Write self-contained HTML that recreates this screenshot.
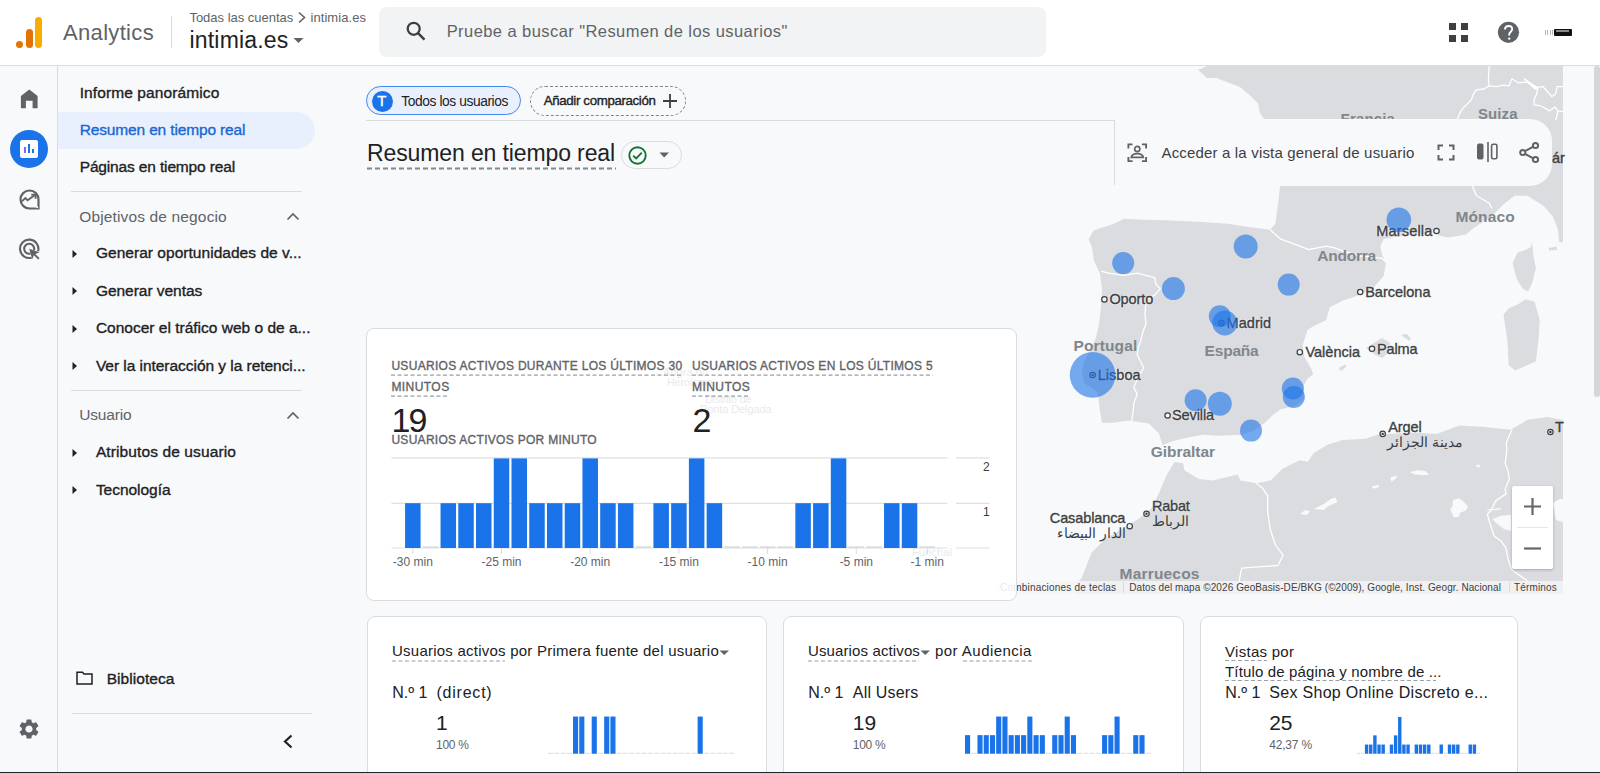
<!DOCTYPE html>
<html><head><meta charset="utf-8"><style>
html,body{margin:0;padding:0;width:1600px;height:773px;overflow:hidden;background:#f8f9fa;}
.abs{position:absolute;}
.tx{position:absolute;white-space:nowrap;line-height:1;font-family:'Liberation Sans',sans-serif;}
</style></head><body>
<svg class="abs" style="left:0;top:0" width="1600" height="773" viewBox="0 0 1600 773">
<defs><clipPath id="mc"><rect x="330" y="66" width="1233" height="528"/></clipPath></defs>
<g clip-path="url(#mc)">
<rect x="330" y="66" width="1233" height="528" fill="#dadce0"/>
<polygon points="330.0,66.0 1207.0,66.0 1198.0,70.0 1207.0,78.0 1216.0,78.0 1240.0,87.0 1250.6,96.0 1258.0,103.5 1259.7,112.5 1264.0,119.0 1272.0,150.0 1280.0,186.0 1278.6,200.0 1275.3,223.7 1270.2,229.8 1248.4,227.1 1228.2,223.7 1201.3,222.0 1171.0,220.4 1144.0,219.7 1124.0,218.7 1113.8,223.7 1093.6,230.5 1088.6,238.9 1092.0,247.3 1094.0,260.7 1099.8,273.2 1102.0,288.6 1100.9,308.4 1098.7,326.0 1095.4,339.2 1088.8,352.4 1083.0,365.0 1082.0,372.0 1084.4,383.2 1097.6,392.0 1099.8,409.5 1102.0,422.7 1113.0,422.7 1128.4,420.5 1143.8,422.7 1148.6,423.3 1159.0,433.6 1162.8,446.5 1169.3,459.5 1174.5,462.0 1166.7,475.0 1159.0,493.0 1151.2,508.6 1138.3,519.0 1125.3,526.7 1104.7,539.6 1091.7,552.6 1086.5,565.5 1081.4,578.4 1078.8,581.0 1075.0,600.0 330.0,600.0" fill="#f8f9fa"/>
<polygon points="1160.0,446.4 1163.9,444.4 1171.6,441.5 1183.3,438.6 1202.7,434.7 1218.2,435.7 1241.5,434.7 1253.1,430.9 1264.7,423.1 1272.5,415.3 1280.2,409.5 1295.8,405.6 1304.5,397.9 1303.5,386.2 1307.4,378.5 1313.2,374.6 1311.3,368.8 1304.5,357.2 1302.6,345.5 1307.4,330.0 1313.8,326.0 1326.2,320.0 1329.7,307.3 1343.7,300.3 1359.4,295.0 1373.4,288.0 1383.8,275.8 1385.6,265.3 1385.6,261.9 1382.1,254.9 1380.3,246.1 1383.8,239.1 1397.8,236.5 1418.8,234.8 1434.5,232.2 1440.0,235.7 1447.8,237.5 1466.0,234.4 1473.7,228.0 1491.8,216.3 1504.8,203.3 1515.0,195.5 1528.0,196.0 1543.6,205.9 1552.7,216.3 1557.9,229.2 1559.2,242.2 1570.0,242.2 1570.0,419.8 1561.7,419.8 1547.5,417.0 1527.6,419.8 1510.5,429.8 1485.0,427.0 1459.3,425.5 1436.6,434.0 1413.8,432.6 1378.4,434.4 1365.5,438.7 1342.5,440.1 1328.1,444.4 1313.7,453.1 1308.0,461.7 1299.4,460.2 1282.1,468.9 1270.6,480.4 1256.2,483.2 1240.4,480.4 1237.6,474.6 1213.1,480.4 1198.7,479.0 1184.4,470.3 1183.0,463.0 1170.0,461.7 1165.0,458.0" fill="#f8f9fa"/>
<polygon points="1532.0,240.9 1533.3,255.1 1535.9,268.0 1532.0,283.6 1528.0,291.4 1522.9,288.8 1517.7,281.0 1515.1,273.3 1512.5,262.9 1517.7,252.5 1525.5,250.0 1531.0,247.0" fill="#dadce0"/>
<polygon points="1525.5,299.2 1534.6,301.8 1539.7,319.9 1538.4,340.6 1535.9,361.3 1515.1,370.4 1508.7,365.2 1507.4,340.6 1503.5,314.7 1508.7,308.2 1517.7,304.4" fill="#dadce0"/>
<polygon points="1365.8,348.0 1382.1,337.9 1389.9,342.5 1388.3,352.6 1382.1,358.0 1374.3,354.2" fill="#dadce0"/>
<polygon points="1338.6,368.1 1345.6,364.3 1346.4,366.6 1341.0,371.2" fill="#dadce0"/>
<polygon points="1400.7,334.8 1407.0,334.0 1410.8,338.6 1409.3,341.0 1403.8,337.0" fill="#dadce0"/>
<polygon points="1548.8,248.0 1556.6,246.5 1557.0,250.0 1549.0,250.5" fill="#dadce0"/>
<polyline points="1100.9,271.0 1108.6,273.2 1124.0,275.4 1137.2,273.2 1146.0,275.4 1154.8,277.6 1155.9,284.2 1160.3,288.6 1154.8,295.2 1146.0,299.6 1144.9,315.0 1146.0,323.8 1142.7,332.6 1140.5,341.4 1138.3,346.9 1137.2,354.6 1140.5,361.2 1143.8,367.8 1137.2,378.8 1133.9,387.6 1137.2,394.2 1133.9,403.0 1132.8,414.0 1131.7,421.0" fill="none" stroke="#fff" stroke-width="1.3" stroke-linejoin="round"/>
<polyline points="1270.2,229.8 1280.2,238.8 1300.0,246.1 1308.7,249.6 1326.2,246.1 1334.9,247.9 1343.7,251.4 1360.9,256.0 1382.1,258.4 1385.6,261.9" fill="none" stroke="#fff" stroke-width="1.3" stroke-linejoin="round"/>
<polyline points="1256.2,483.2 1262.4,487.9 1267.6,495.7 1267.6,511.2 1270.2,529.3 1275.3,544.8 1283.1,555.2 1277.9,565.5 1241.7,568.1 1239.1,581.0" fill="none" stroke="#fff" stroke-width="1.3" stroke-linejoin="round"/>
<polyline points="1512.0,429.8 1506.3,442.6 1506.8,450.0 1505.2,463.5 1507.7,470.2 1509.4,478.7 1505.2,488.8 1506.0,493.9 1495.9,500.6 1490.8,510.7 1487.4,514.1 1489.1,520.9 1494.2,536.1 1501.0,541.1 1506.0,547.9 1507.7,558.0 1512.0,570.0 1527.6,581.0" fill="none" stroke="#fff" stroke-width="1.3" stroke-linejoin="round"/>
<polyline points="1489.2,66.0 1488.4,79.6 1489.2,85.9 1483.8,89.0 1476.0,89.8 1473.6,93.7 1471.2,100.0 1463.4,107.8 1461.0,110.9 1457.2,119.0" fill="none" stroke="#fff" stroke-width="1.3" stroke-linejoin="round"/>
<polyline points="1489.2,85.9 1496.2,86.7 1504.0,85.1 1508.8,85.9 1511.9,78.8 1518.1,82.8 1526.0,82.0 1537.7,87.4 1543.0,86.7 1549.4,93.7 1551.7,96.8 1555.6,93.7 1557.2,86.7 1563.0,86.7" fill="none" stroke="#fff" stroke-width="1.3" stroke-linejoin="round"/>
<polyline points="1537.7,87.4 1536.9,93.7 1534.5,98.4 1533.8,104.6 1541.6,106.2 1549.4,110.9 1554.8,107.0 1558.0,110.9 1563.0,111.6" fill="none" stroke="#fff" stroke-width="1.3" stroke-linejoin="round"/>
<polyline points="1558.0,110.9 1557.2,114.8 1555.6,120.2" fill="none" stroke="#fff" stroke-width="1.3" stroke-linejoin="round"/>
<polyline points="1472.4,186.0 1476.3,195.5 1489.2,203.3 1491.8,208.5" fill="none" stroke="#fff" stroke-width="1.3" stroke-linejoin="round"/>
<path d="M1524.4 78.8 L1537.7 88.5 L1535 89 Z" fill="#fff" stroke="#fff" stroke-width="1.2"/>
<polygon points="1409.8,471.9 1418.2,470.2 1425.0,471.1 1429.2,474.5 1423.3,475.3 1414.9,474.5" fill="#f8f9fa"/>
<polygon points="1390.4,477.5 1396.5,475.8 1397.2,477.2 1391.5,482.1" fill="#f8f9fa"/>
<polygon points="1371.8,486.4 1378.5,484.8 1379.4,487.0 1373.0,488.8" fill="#f8f9fa"/>
<polygon points="1313.6,509.1 1323.7,504.0 1330.5,498.9 1335.6,497.2 1337.3,502.3 1328.8,505.7 1323.7,509.9" fill="#f8f9fa"/>
<polygon points="1300.1,514.1 1305.2,509.9 1310.2,511.6 1306.9,515.0" fill="#f8f9fa"/>
<polygon points="1452.8,500.6 1458.7,498.1 1465.5,503.2 1468.0,507.4 1465.5,510.8 1460.4,512.4 1458.7,516.7 1453.7,517.5 1450.3,509.1 1452.8,505.7" fill="#f8f9fa"/>
<polygon points="1492.5,519.2 1500.9,515.8 1511.0,515.0 1511.0,531.0 1504.3,529.3 1497.6,524.2" fill="#f8f9fa"/>
<polygon points="1553.0,503.0 1560.0,499.0 1563.0,499.0 1563.0,522.0 1556.0,520.0" fill="#f8f9fa"/>
<polygon points="1475.6,465.5 1479.0,464.3 1480.7,467.7 1477.0,467.0" fill="#f8f9fa"/>
<path d="M1487.4 510 L1500.9 508.8" stroke="#fff" stroke-width="1.2"/>
<circle cx="1104.4" cy="299.4" r="2.7" fill="#f1f3f4" stroke="#3c4043" stroke-width="1.2"/>
<circle cx="1221.5" cy="323" r="2.7" fill="#f1f3f4" stroke="#3c4043" stroke-width="1.2"/>
<circle cx="1221.5" cy="323" r="1.2" fill="#3c4043"/>
<circle cx="1092.6" cy="375" r="2.7" fill="#f1f3f4" stroke="#3c4043" stroke-width="1.2"/>
<circle cx="1092.6" cy="375" r="1.2" fill="#3c4043"/>
<circle cx="1167.6" cy="415.5" r="2.7" fill="#f1f3f4" stroke="#3c4043" stroke-width="1.2"/>
<circle cx="1299.8" cy="352.2" r="2.7" fill="#f1f3f4" stroke="#3c4043" stroke-width="1.2"/>
<circle cx="1372" cy="348.8" r="2.7" fill="#f1f3f4" stroke="#3c4043" stroke-width="1.2"/>
<circle cx="1360.2" cy="292" r="2.7" fill="#f1f3f4" stroke="#3c4043" stroke-width="1.2"/>
<circle cx="1436.5" cy="231" r="2.7" fill="#f1f3f4" stroke="#3c4043" stroke-width="1.2"/>
<circle cx="1382.7" cy="433.9" r="2.7" fill="#f1f3f4" stroke="#3c4043" stroke-width="1.2"/>
<circle cx="1382.7" cy="433.9" r="1.2" fill="#3c4043"/>
<circle cx="1146.5" cy="513.8" r="2.7" fill="#f1f3f4" stroke="#3c4043" stroke-width="1.2"/>
<circle cx="1146.5" cy="513.8" r="1.2" fill="#3c4043"/>
<circle cx="1129.7" cy="526.2" r="2.7" fill="#f1f3f4" stroke="#3c4043" stroke-width="1.2"/>
<circle cx="1550.4" cy="432" r="2.7" fill="#f1f3f4" stroke="#3c4043" stroke-width="1.2"/>
<circle cx="1550.4" cy="432" r="1.2" fill="#3c4043"/>
</g></svg>
<span class="tx" style="left:1109.40px;top:292.23px;font-size:14.5px;font-weight:400;color:#3c4043;letter-spacing:-0.091px;-webkit-text-stroke:0.35px currentColor;text-shadow:0 0 2px #fff,0 0 2px #fff;">Oporto</span>
<span class="tx" style="left:1226.50px;top:315.73px;font-size:14.5px;font-weight:400;color:#3c4043;letter-spacing:0.062px;-webkit-text-stroke:0.35px currentColor;text-shadow:0 0 2px #fff,0 0 2px #fff;">Madrid</span>
<span class="tx" style="left:1097.70px;top:367.73px;font-size:14.5px;font-weight:400;color:#3c4043;letter-spacing:0.044px;-webkit-text-stroke:0.35px currentColor;text-shadow:0 0 2px #fff,0 0 2px #fff;">Lisboa</span>
<span class="tx" style="left:1172.00px;top:407.93px;font-size:14.5px;font-weight:400;color:#3c4043;letter-spacing:-0.103px;-webkit-text-stroke:0.35px currentColor;text-shadow:0 0 2px #fff,0 0 2px #fff;">Sevilla</span>
<span class="tx" style="left:1305.40px;top:344.93px;font-size:14.5px;font-weight:400;color:#3c4043;letter-spacing:0.032px;-webkit-text-stroke:0.35px currentColor;text-shadow:0 0 2px #fff,0 0 2px #fff;">València</span>
<span class="tx" style="left:1377.00px;top:341.53px;font-size:14.5px;font-weight:400;color:#3c4043;letter-spacing:-0.142px;-webkit-text-stroke:0.35px currentColor;text-shadow:0 0 2px #fff,0 0 2px #fff;">Palma</span>
<span class="tx" style="left:1365.20px;top:284.73px;font-size:14.5px;font-weight:400;color:#3c4043;letter-spacing:0.000px;-webkit-text-stroke:0.35px currentColor;text-shadow:0 0 2px #fff,0 0 2px #fff;">Barcelona</span>
<span class="tx" style="left:1376.20px;top:223.53px;font-size:14.5px;font-weight:400;color:#3c4043;letter-spacing:0.188px;-webkit-text-stroke:0.35px currentColor;text-shadow:0 0 2px #fff,0 0 2px #fff;">Marsella</span>
<span class="tx" style="left:1388.20px;top:419.73px;font-size:14.5px;font-weight:400;color:#3c4043;letter-spacing:-0.052px;-webkit-text-stroke:0.35px currentColor;text-shadow:0 0 2px #fff,0 0 2px #fff;">Argel</span>
<span class="tx" style="left:1152.00px;top:498.93px;font-size:14.5px;font-weight:400;color:#3c4043;letter-spacing:-0.241px;-webkit-text-stroke:0.35px currentColor;text-shadow:0 0 2px #fff,0 0 2px #fff;">Rabat</span>
<span class="tx" style="left:1049.80px;top:511.33px;font-size:14.5px;font-weight:400;color:#3c4043;letter-spacing:-0.108px;-webkit-text-stroke:0.35px currentColor;text-shadow:0 0 2px #fff,0 0 2px #fff;">Casablanca</span>
<span class="tx" style="left:1555.00px;top:419.73px;font-size:14.5px;font-weight:400;color:#3c4043;letter-spacing:0.000px;-webkit-text-stroke:0.35px currentColor;">T</span>
<span class="tx" style="left:1552.00px;top:150.73px;font-size:14.5px;font-weight:400;color:#3c4043;letter-spacing:0.000px;-webkit-text-stroke:0.35px currentColor;">ár</span>
<span class="tx" style="left:663.00px;top:366.69px;font-size:11px;font-weight:400;color:#3c4043;letter-spacing:0.043px;">Angra do</span>
<span class="tx" style="left:667.00px;top:376.69px;font-size:11px;font-weight:400;color:#3c4043;letter-spacing:-0.336px;">Heroísmo</span>
<span class="tx" style="left:705.00px;top:393.69px;font-size:11px;font-weight:400;color:#3c4043;letter-spacing:-0.321px;">Distrito de</span>
<span class="tx" style="left:700.00px;top:404.19px;font-size:11px;font-weight:400;color:#3c4043;letter-spacing:-0.099px;">Ponta Delgada</span>
<span class="tx" style="left:912.00px;top:546.69px;font-size:11px;font-weight:400;color:#3c4043;letter-spacing:0.123px;">Funchal</span>
<span class="tx" style="left:1073.50px;top:338.38px;font-size:15.5px;font-weight:700;color:#80868b;letter-spacing:0.128px;">Portugal</span>
<span class="tx" style="left:1204.60px;top:343.48px;font-size:15.5px;font-weight:700;color:#80868b;letter-spacing:-0.207px;">España</span>
<span class="tx" style="left:1317.20px;top:247.58px;font-size:15.5px;font-weight:700;color:#80868b;letter-spacing:-0.214px;">Andorra</span>
<span class="tx" style="left:1455.40px;top:209.18px;font-size:15.5px;font-weight:700;color:#80868b;letter-spacing:0.173px;">Mónaco</span>
<span class="tx" style="left:1150.70px;top:444.28px;font-size:15.5px;font-weight:700;color:#80868b;letter-spacing:-0.034px;">Gibraltar</span>
<span class="tx" style="left:1119.60px;top:565.88px;font-size:15.5px;font-weight:700;color:#80868b;letter-spacing:0.177px;">Marruecos</span>
<span class="tx" style="left:1477.90px;top:105.60px;font-size:15px;font-weight:700;color:#80868b;letter-spacing:0.122px;">Suiza</span>
<span class="tx" style="left:1340.60px;top:110.80px;font-size:15px;font-weight:700;color:#80868b;letter-spacing:0.149px;">Francia</span>
<span class="tx" style="left:1152.00px;top:513.55px;font-size:14px;font-weight:400;color:#3c4043;letter-spacing:-1.167px;direction:ltr;">الرباط</span>
<span class="tx" style="left:1056.80px;top:526.45px;font-size:14px;font-weight:400;color:#3c4043;letter-spacing:-0.130px;direction:ltr;">الدار البيضاء</span>
<span class="tx" style="left:1386.80px;top:435.05px;font-size:14px;font-weight:400;color:#3c4043;letter-spacing:-0.084px;direction:ltr;">مدينة الجزائر</span>
<svg class="abs" style="left:0;top:0" width="1600" height="773">
<circle cx="1123.2" cy="263.1" r="11" fill="#1a73e8" fill-opacity="0.6"/>
<circle cx="1173.4" cy="288.6" r="11.5" fill="#1a73e8" fill-opacity="0.6"/>
<circle cx="1245.7" cy="246.6" r="12" fill="#1a73e8" fill-opacity="0.6"/>
<circle cx="1288.7" cy="284.6" r="11" fill="#1a73e8" fill-opacity="0.6"/>
<circle cx="1219.8" cy="316.2" r="11" fill="#1a73e8" fill-opacity="0.6"/>
<circle cx="1224.8" cy="323" r="12.5" fill="#1a73e8" fill-opacity="0.6"/>
<circle cx="1092.6" cy="374.9" r="22.8" fill="#1a73e8" fill-opacity="0.6"/>
<circle cx="1195.6" cy="400.3" r="11" fill="#1a73e8" fill-opacity="0.6"/>
<circle cx="1219.8" cy="403.7" r="12" fill="#1a73e8" fill-opacity="0.6"/>
<circle cx="1292.8" cy="388.5" r="11" fill="#1a73e8" fill-opacity="0.6"/>
<circle cx="1293.8" cy="397" r="11" fill="#1a73e8" fill-opacity="0.6"/>
<circle cx="1251" cy="430.6" r="11" fill="#1a73e8" fill-opacity="0.6"/>
<circle cx="1398.8" cy="219.8" r="12.3" fill="#1a73e8" fill-opacity="0.6"/>
</svg>
<div class="abs" style="left:996px;top:581px;width:567px;height:13px;background:rgba(245,245,245,0.85)"></div>
<div class="abs" style="left:1122.5px;top:582px;width:1px;height:11px;background:#dadce0"></div>
<div class="abs" style="left:1508.5px;top:582px;width:1px;height:11px;background:#dadce0"></div>
<div class="abs" style="left:1512px;top:486px;width:41px;height:83px;background:#fff;box-shadow:0 1px 3px rgba(0,0,0,0.25);border-radius:2px"></div>
<div class="abs" style="left:1517px;top:527px;width:31px;height:1px;background:#e6e6e6"></div>
<svg class="abs" style="left:1522px;top:496px" width="21" height="21"><path d="M10.5 2 L10.5 19 M2 10.5 L19 10.5" stroke="#666" stroke-width="2.2"/></svg>
<svg class="abs" style="left:1522px;top:538px" width="21" height="21"><path d="M2 10.5 L19 10.5" stroke="#666" stroke-width="2.2"/></svg>
<span class="tx" style="left:1129.20px;top:583.24px;font-size:10px;font-weight:400;color:#3c4043;letter-spacing:0.084px;">Datos del mapa ©2026 GeoBasis-DE/BKG (©2009), Google, Inst. Geogr. Nacional</span>
<span class="tx" style="left:1514.00px;top:583.24px;font-size:10px;font-weight:400;color:#3c4043;letter-spacing:0.164px;">Términos</span>
<span class="tx" style="left:1000.00px;top:583.24px;font-size:10px;font-weight:400;color:#3c4043;letter-spacing:0.199px;">Combinaciones de teclas</span>
<div class="abs" style="left:0px;top:0px;width:1600px;height:65px;background:#fff"></div>
<div class="abs" style="left:0px;top:65px;width:1600px;height:1px;background:#dadce0"></div>
<div class="abs" style="left:16px;top:41px;width:7px;height:7px;background:#e37400;border-radius:50%"></div>
<div class="abs" style="left:26px;top:29px;width:7px;height:19px;background:#e37400;border-radius:4px"></div>
<div class="abs" style="left:35px;top:17px;width:7px;height:31px;background:#f9ab00;border-radius:4px"></div>
<div class="abs" style="left:171px;top:16px;width:1px;height:32px;background:#dadce0"></div>
<svg class="abs" style="left:297px;top:11px" width="10" height="13"><path d="M2 1.5 L7.5 6.5 L2 11.5" fill="none" stroke="#5f6368" stroke-width="1.6"/></svg>
<svg class="abs" style="left:293px;top:37px" width="12" height="8"><path d="M0.5 1 L10.5 1 L5.5 6 Z" fill="#5f6368"/></svg>
<div class="abs" style="left:379px;top:7px;width:667px;height:50px;background:#f1f3f4;border-radius:8px"></div>
<svg class="abs" style="left:404px;top:19px" width="24" height="24" viewBox="0 0 24 24"><circle cx="9.7" cy="9.8" r="6" fill="none" stroke="#3c4043" stroke-width="2.3"/><path d="M14 14.2 L20.5 20.7" stroke="#3c4043" stroke-width="2.5"/></svg>
<div class="abs" style="left:1449px;top:23px;width:7px;height:7px;background:#3c4043"></div>
<div class="abs" style="left:1449px;top:35px;width:7px;height:7px;background:#3c4043"></div>
<div class="abs" style="left:1461px;top:23px;width:7px;height:7px;background:#3c4043"></div>
<div class="abs" style="left:1461px;top:35px;width:7px;height:7px;background:#3c4043"></div>
<svg class="abs" style="left:1497px;top:21px" width="23" height="23" viewBox="0 0 23 23"><circle cx="11.5" cy="11.3" r="10.6" fill="#5f6368"/><path d="M8 8.6 C8 5.8 10 5 11.6 5 C13.6 5 15.2 6.3 15.2 8.3 C15.2 10.6 12.2 11 12.2 13.6 L12.2 14.6" fill="none" stroke="#fff" stroke-width="1.9"/><circle cx="12.2" cy="17.6" r="1.2" fill="#fff"/></svg>
<div class="abs" style="left:1545px;top:30px;width:0.9px;height:5px;background:#b8b8b8"></div>
<div class="abs" style="left:1547.3px;top:30px;width:0.9px;height:5px;background:#b8b8b8"></div>
<div class="abs" style="left:1549.6px;top:30px;width:0.9px;height:5px;background:#b8b8b8"></div>
<div class="abs" style="left:1551.9px;top:30px;width:0.9px;height:5px;background:#b8b8b8"></div>
<div class="abs" style="left:1554px;top:29px;width:17.6px;height:6.7px;background:#111;border-radius:1px"></div>
<div class="abs" style="left:1556px;top:30.2px;width:13px;height:2.2px;background:#8a8a8a"></div>
<div class="abs" style="left:57px;top:66px;width:1px;height:707px;background:#dadce0"></div>
<svg class="abs" style="left:19px;top:88px" width="20" height="21" viewBox="0 0 20 21"><path d="M1.9 8 L10.3 1.6 L18.6 8 L18.6 20.2 L13.6 20.2 L13.6 12.7 L6.9 12.7 L6.9 20.2 L1.9 20.2 Z" fill="#5f6368"/></svg>
<div class="abs" style="left:10px;top:130px;width:38px;height:38px;background:#1a73e8;border-radius:50%"></div>
<div class="abs" style="left:20px;top:140px;width:18px;height:18px;background:#fff;border-radius:2px"></div>
<div class="abs" style="left:24px;top:147px;width:2px;height:6px;background:#8e5ff0"></div>
<div class="abs" style="left:28px;top:144px;width:2px;height:9px;background:#1a73e8"></div>
<div class="abs" style="left:32px;top:149px;width:2px;height:4px;background:#1a73e8"></div>
<svg class="abs" style="left:18px;top:188px" width="23" height="23" viewBox="0 0 23 23"><path d="M20.5 11.5 A9 9 0 1 0 11.5 20.5 L20.5 20.5 Z" fill="none" stroke="#5f6368" stroke-width="2.2"/><path d="M3.8 13.4 L7.4 10.1 L9.6 12.3 L16.5 7.2" fill="none" stroke="#5f6368" stroke-width="1.9"/><path d="M13.2 6.6 L17.6 6.6 L17.6 10.8" fill="none" stroke="#5f6368" stroke-width="1.9"/><circle cx="19.2" cy="19.3" r="1" fill="#f8f9fa"/></svg>
<svg class="abs" style="left:18px;top:237px" width="24" height="24" viewBox="0 0 24 24"><path d="M20.1 14.2 A9.2 9.2 0 1 0 13.6 20.7" fill="none" stroke="#5f6368" stroke-width="2.1"/><path d="M16 13.1 A5 5 0 1 0 12.5 16.6" fill="none" stroke="#5f6368" stroke-width="2.1"/><path d="M11.2 11.7 L21.5 15.2 L17.3 16.9 L21.6 21.2 L20.2 22.6 L15.9 18.3 L14.2 22.3 Z" fill="#5f6368"/></svg>
<svg class="abs" style="left:17px;top:717px" width="24" height="24" viewBox="0 0 24 24"><path fill="#5f6368" d="M19.14 12.94c.04-.3.06-.61.06-.94 0-.32-.02-.64-.07-.94l2.03-1.58a.49.49 0 0 0 .12-.61l-1.92-3.32a.488.488 0 0 0-.59-.22l-2.39.96c-.5-.38-1.03-.7-1.62-.94l-.36-2.54a.484.484 0 0 0-.48-.41h-3.84c-.24 0-.43.17-.47.41l-.36 2.54c-.59.24-1.13.57-1.62.94l-2.39-.96c-.22-.08-.47 0-.59.22L2.74 8.87c-.12.21-.08.47.12.61l2.03 1.58c-.05.3-.09.63-.09.94s.02.64.07.94l-2.03 1.58a.49.49 0 0 0-.12.61l1.92 3.32c.12.22.37.29.59.22l2.39-.96c.5.38 1.03.7 1.62.94l.36 2.54c.05.24.24.41.48.41h3.84c.24 0 .44-.17.47-.41l.36-2.54c.59-.24 1.13-.56 1.62-.94l2.39.96c.22.08.47 0 .59-.22l1.92-3.32c.12-.22.07-.47-.12-.61l-2.01-1.58zM12 15.6c-1.98 0-3.6-1.62-3.6-3.6s1.62-3.6 3.6-3.6 3.6 1.62 3.6 3.6-1.62 3.6-3.6 3.6z"/></svg>
<div class="abs" style="left:58px;top:112px;width:257px;height:37px;background:#e8f0fe;border-radius:0 19px 19px 0"></div>
<div class="abs" style="left:71px;top:191px;width:231px;height:1px;background:#dadce0"></div>
<div class="abs" style="left:71px;top:390px;width:231px;height:1px;background:#dadce0"></div>
<div class="abs" style="left:72px;top:713px;width:240px;height:1px;background:#dadce0"></div>
<svg class="abs" style="left:286px;top:212px" width="14" height="9"><path d="M1.5 7.5 L7 2 L12.5 7.5" fill="none" stroke="#5f6368" stroke-width="1.7"/></svg>
<svg class="abs" style="left:286px;top:411px" width="14" height="9"><path d="M1.5 7.5 L7 2 L12.5 7.5" fill="none" stroke="#5f6368" stroke-width="1.7"/></svg>
<svg class="abs" style="left:72px;top:249px" width="6" height="10"><path d="M0.5 1 L5 5 L0.5 9 Z" fill="#202124"/></svg>
<svg class="abs" style="left:72px;top:286px" width="6" height="10"><path d="M0.5 1 L5 5 L0.5 9 Z" fill="#202124"/></svg>
<svg class="abs" style="left:72px;top:323.5px" width="6" height="10"><path d="M0.5 1 L5 5 L0.5 9 Z" fill="#202124"/></svg>
<svg class="abs" style="left:72px;top:361px" width="6" height="10"><path d="M0.5 1 L5 5 L0.5 9 Z" fill="#202124"/></svg>
<svg class="abs" style="left:72px;top:448px" width="6" height="10"><path d="M0.5 1 L5 5 L0.5 9 Z" fill="#202124"/></svg>
<svg class="abs" style="left:72px;top:485px" width="6" height="10"><path d="M0.5 1 L5 5 L0.5 9 Z" fill="#202124"/></svg>
<svg class="abs" style="left:76px;top:671px" width="17" height="14" viewBox="0 0 17 14"><path d="M1 1.2 L6.5 1.2 L8 3 L16 3 L16 13 L1 13 Z" fill="none" stroke="#202124" stroke-width="1.5"/></svg>
<svg class="abs" style="left:282px;top:733px" width="12" height="17"><path d="M9.5 2.5 L3 8.5 L9.5 14.5" fill="none" stroke="#202124" stroke-width="2.2"/></svg>
<div class="abs" style="left:366px;top:120px;width:749px;height:1px;background:#dadce0"></div>
<div class="abs" style="left:1114px;top:120px;width:1px;height:65px;background:#dadce0"></div>
<div class="abs" style="left:366px;top:86px;width:155px;height:29px;box-sizing:border-box;border:1.5px solid #4285f4;background:#e8f0fe;border-radius:15px"></div>
<div class="abs" style="left:371.5px;top:90.5px;width:21px;height:21px;background:#1a73e8;border-radius:50%"></div>
<span class="tx" style="left:377.3px;top:93px;font-size:15px;font-weight:400;-webkit-text-stroke:0.4px #fff;color:#fff">T</span>
<div class="abs" style="left:530px;top:86px;width:156px;height:30px;box-sizing:border-box;border:1px dashed #80868b;border-radius:15px"></div>
<svg class="abs" style="left:662px;top:93px" width="16" height="16"><path d="M8 1 L8 15 M1 8 L15 8" stroke="#3c4043" stroke-width="1.8"/></svg>
<svg class="abs" style="left:367px;top:167px" width="250" height="3"><line x1="0" y1="1.5" x2="249" y2="1.5" stroke="#80868b" stroke-width="2" stroke-dasharray="5 3"/></svg>
<div class="abs" style="left:621px;top:141px;width:61px;height:28px;box-sizing:border-box;border:1px solid #dadce0;border-radius:14px"></div>
<svg class="abs" style="left:627px;top:145px" width="21" height="21" viewBox="0 0 21 21"><circle cx="10.5" cy="10.5" r="8.2" fill="none" stroke="#137333" stroke-width="1.9"/><path d="M6.2 10.6 L9.2 13.5 L14.8 7.6" fill="none" stroke="#137333" stroke-width="1.9"/></svg>
<svg class="abs" style="left:659px;top:152px" width="11" height="7"><path d="M0.5 0.5 L10 0.5 L5.2 5.5 Z" fill="#5f6368"/></svg>
<div class="abs" style="left:1115px;top:119px;width:437px;height:67px;background:#f8f9fa;border-radius:0 22px 22px 0"></div>
<svg class="abs" style="left:1127px;top:142.6px" width="20.5" height="19.6" viewBox="0 0 22 21"><path d="M1.5 6 L1.5 1.5 L6 1.5 M16 1.5 L20.5 1.5 L20.5 6 M1.5 15 L1.5 19.5 L6 19.5 M16 19.5 L20.5 19.5 L20.5 15" fill="none" stroke="#5f6368" stroke-width="2"/><circle cx="11" cy="6.5" r="2.8" fill="none" stroke="#5f6368" stroke-width="1.8"/><path d="M4.5 15.5 C5 12.5 8 11.3 11 11.3 C14 11.3 17 12.5 17.5 15.5 Z" fill="none" stroke="#5f6368" stroke-width="1.8"/></svg>
<svg class="abs" style="left:1437px;top:144px" width="18" height="17" viewBox="0 0 18 17"><path d="M1.5 6 L1.5 1.5 L6 1.5 M12 1.5 L16.5 1.5 L16.5 6 M1.5 11 L1.5 15.5 L6 15.5 M12 15.5 L16.5 15.5 L16.5 11" fill="none" stroke="#5f6368" stroke-width="2"/></svg>
<svg class="abs" style="left:1476px;top:141px" width="24" height="22" viewBox="0 0 24 22"><rect x="1" y="2.5" width="6.5" height="16" rx="2" fill="#5f6368"/><path d="M12 1 L12 21" stroke="#5f6368" stroke-width="1.6"/><rect x="15.6" y="3.3" width="5.3" height="14.5" rx="1.5" fill="none" stroke="#5f6368" stroke-width="1.6"/></svg>
<svg class="abs" style="left:1518px;top:141px" width="23" height="23" viewBox="0 0 23 23"><circle cx="17.5" cy="4.5" r="2.6" fill="none" stroke="#5f6368" stroke-width="2"/><circle cx="4.8" cy="11.5" r="2.6" fill="none" stroke="#5f6368" stroke-width="2"/><circle cx="17.5" cy="18.5" r="2.6" fill="none" stroke="#5f6368" stroke-width="2"/><path d="M7 10.2 L15.3 5.6 M7 12.8 L15.3 17.4" stroke="#5f6368" stroke-width="2"/></svg>
<div class="abs" style="left:366px;top:328px;width:651px;height:273px;box-sizing:border-box;border:1px solid #dadce0;border-radius:8px;background:rgba(255,255,255,0.88)"></div>
<svg class="abs" style="left:391.4px;top:373.5px" width="291.0" height="3"><line x1="0" y1="1.2" x2="291.0" y2="1.2" stroke="#9aa0a6" stroke-width="1.3" stroke-dasharray="4 2.5"/></svg>
<svg class="abs" style="left:391.4px;top:395px" width="58.2" height="3"><line x1="0" y1="1.2" x2="58.2" y2="1.2" stroke="#9aa0a6" stroke-width="1.3" stroke-dasharray="4 2.5"/></svg>
<svg class="abs" style="left:692px;top:373.5px" width="240.9" height="3"><line x1="0" y1="1.2" x2="240.9" y2="1.2" stroke="#9aa0a6" stroke-width="1.3" stroke-dasharray="4 2.5"/></svg>
<svg class="abs" style="left:692px;top:395px" width="58.3" height="3"><line x1="0" y1="1.2" x2="58.3" y2="1.2" stroke="#9aa0a6" stroke-width="1.3" stroke-dasharray="4 2.5"/></svg>
<svg class="abs" style="left:0;top:0" width="1600" height="773">
<line x1="391.5" y1="457.9" x2="947.5" y2="457.9" stroke="#e0e0e0" stroke-width="1.2"/>
<line x1="956" y1="457.9" x2="989.5" y2="457.9" stroke="#e0e0e0" stroke-width="1.2"/>
<line x1="391.5" y1="503.4" x2="947.5" y2="503.4" stroke="#e0e0e0" stroke-width="1.2"/>
<line x1="956" y1="503.4" x2="989.5" y2="503.4" stroke="#e0e0e0" stroke-width="1.2"/>
<line x1="391.5" y1="548" x2="947.5" y2="548" stroke="#e0e0e0" stroke-width="1.2"/>
<line x1="956" y1="548" x2="989.5" y2="548" stroke="#e0e0e0" stroke-width="1.2"/>
<rect x="405.06" y="503.2" width="15.5" height="44.8" fill="#1a73e8"/>
<rect x="422.80" y="546.3" width="15.5" height="1.8" fill="#dadce0"/>
<rect x="440.54" y="503.2" width="15.5" height="44.8" fill="#1a73e8"/>
<rect x="458.28" y="503.2" width="15.5" height="44.8" fill="#1a73e8"/>
<rect x="476.02" y="503.2" width="15.5" height="44.8" fill="#1a73e8"/>
<rect x="493.76" y="458.4" width="15.5" height="89.6" fill="#1a73e8"/>
<rect x="511.50" y="458.4" width="15.5" height="89.6" fill="#1a73e8"/>
<rect x="529.24" y="503.2" width="15.5" height="44.8" fill="#1a73e8"/>
<rect x="546.98" y="503.2" width="15.5" height="44.8" fill="#1a73e8"/>
<rect x="564.72" y="503.2" width="15.5" height="44.8" fill="#1a73e8"/>
<rect x="582.46" y="458.4" width="15.5" height="89.6" fill="#1a73e8"/>
<rect x="600.20" y="503.2" width="15.5" height="44.8" fill="#1a73e8"/>
<rect x="617.94" y="503.2" width="15.5" height="44.8" fill="#1a73e8"/>
<rect x="635.68" y="546.3" width="15.5" height="1.8" fill="#dadce0"/>
<rect x="653.42" y="503.2" width="15.5" height="44.8" fill="#1a73e8"/>
<rect x="671.16" y="503.2" width="15.5" height="44.8" fill="#1a73e8"/>
<rect x="688.90" y="458.4" width="15.5" height="89.6" fill="#1a73e8"/>
<rect x="706.64" y="503.2" width="15.5" height="44.8" fill="#1a73e8"/>
<rect x="724.38" y="546.3" width="15.5" height="1.8" fill="#dadce0"/>
<rect x="742.12" y="546.3" width="15.5" height="1.8" fill="#dadce0"/>
<rect x="759.86" y="546.3" width="15.5" height="1.8" fill="#dadce0"/>
<rect x="777.60" y="546.3" width="15.5" height="1.8" fill="#dadce0"/>
<rect x="795.34" y="503.2" width="15.5" height="44.8" fill="#1a73e8"/>
<rect x="813.08" y="503.2" width="15.5" height="44.8" fill="#1a73e8"/>
<rect x="830.82" y="458.4" width="15.5" height="89.6" fill="#1a73e8"/>
<rect x="848.56" y="546.3" width="15.5" height="1.8" fill="#dadce0"/>
<rect x="866.30" y="546.3" width="15.5" height="1.8" fill="#dadce0"/>
<rect x="884.04" y="503.2" width="15.5" height="44.8" fill="#1a73e8"/>
<rect x="901.78" y="503.2" width="15.5" height="44.8" fill="#1a73e8"/>
<rect x="919.52" y="546.3" width="15.5" height="1.8" fill="#dadce0"/>
<line x1="412.81" y1="548" x2="412.81" y2="554" stroke="#dadce0" stroke-width="1"/>
<line x1="501.51" y1="548" x2="501.51" y2="554" stroke="#dadce0" stroke-width="1"/>
<line x1="590.21" y1="548" x2="590.21" y2="554" stroke="#dadce0" stroke-width="1"/>
<line x1="678.91" y1="548" x2="678.91" y2="554" stroke="#dadce0" stroke-width="1"/>
<line x1="767.61" y1="548" x2="767.61" y2="554" stroke="#dadce0" stroke-width="1"/>
<line x1="856.31" y1="548" x2="856.31" y2="554" stroke="#dadce0" stroke-width="1"/>
<line x1="927.27" y1="548" x2="927.27" y2="554" stroke="#dadce0" stroke-width="1"/>
</svg>
<div class="abs" style="left:367px;top:616px;width:400px;height:180px;box-sizing:border-box;border:1px solid #dadce0;border-radius:8px;background:#fff"></div>
<div class="abs" style="left:783px;top:616px;width:401px;height:180px;box-sizing:border-box;border:1px solid #dadce0;border-radius:8px;background:#fff"></div>
<div class="abs" style="left:1200px;top:616px;width:318px;height:180px;box-sizing:border-box;border:1px solid #dadce0;border-radius:8px;background:#fff"></div>
<svg class="abs" style="left:0;top:0" width="1600" height="773">
<rect x="548.10" y="752.75" width="5.11" height="1" fill="#dadce0"/>
<rect x="554.33" y="752.75" width="5.11" height="1" fill="#dadce0"/>
<rect x="560.56" y="752.75" width="5.11" height="1" fill="#dadce0"/>
<rect x="566.79" y="752.75" width="5.11" height="1" fill="#dadce0"/>
<rect x="573.02" y="716.55" width="5.11" height="37.20" fill="#1a73e8"/>
<rect x="579.25" y="716.55" width="5.11" height="37.20" fill="#1a73e8"/>
<rect x="585.48" y="752.75" width="5.11" height="1" fill="#dadce0"/>
<rect x="591.71" y="716.55" width="5.11" height="37.20" fill="#1a73e8"/>
<rect x="597.94" y="752.75" width="5.11" height="1" fill="#dadce0"/>
<rect x="604.17" y="716.55" width="5.11" height="37.20" fill="#1a73e8"/>
<rect x="610.40" y="716.55" width="5.11" height="37.20" fill="#1a73e8"/>
<rect x="616.63" y="752.75" width="5.11" height="1" fill="#dadce0"/>
<rect x="622.86" y="752.75" width="5.11" height="1" fill="#dadce0"/>
<rect x="629.09" y="752.75" width="5.11" height="1" fill="#dadce0"/>
<rect x="635.32" y="752.75" width="5.11" height="1" fill="#dadce0"/>
<rect x="641.55" y="752.75" width="5.11" height="1" fill="#dadce0"/>
<rect x="647.78" y="752.75" width="5.11" height="1" fill="#dadce0"/>
<rect x="654.01" y="752.75" width="5.11" height="1" fill="#dadce0"/>
<rect x="660.24" y="752.75" width="5.11" height="1" fill="#dadce0"/>
<rect x="666.47" y="752.75" width="5.11" height="1" fill="#dadce0"/>
<rect x="672.70" y="752.75" width="5.11" height="1" fill="#dadce0"/>
<rect x="678.93" y="752.75" width="5.11" height="1" fill="#dadce0"/>
<rect x="685.16" y="752.75" width="5.11" height="1" fill="#dadce0"/>
<rect x="691.39" y="752.75" width="5.11" height="1" fill="#dadce0"/>
<rect x="697.62" y="716.55" width="5.11" height="37.20" fill="#1a73e8"/>
<rect x="703.85" y="752.75" width="5.11" height="1" fill="#dadce0"/>
<rect x="710.08" y="752.75" width="5.11" height="1" fill="#dadce0"/>
<rect x="716.31" y="752.75" width="5.11" height="1" fill="#dadce0"/>
<rect x="722.54" y="752.75" width="5.11" height="1" fill="#dadce0"/>
<rect x="728.77" y="752.75" width="5.11" height="1" fill="#dadce0"/>
<rect x="965.00" y="735.15" width="5.11" height="18.60" fill="#1a73e8"/>
<rect x="971.23" y="752.75" width="5.11" height="1" fill="#dadce0"/>
<rect x="977.46" y="735.15" width="5.11" height="18.60" fill="#1a73e8"/>
<rect x="983.69" y="735.15" width="5.11" height="18.60" fill="#1a73e8"/>
<rect x="989.92" y="735.15" width="5.11" height="18.60" fill="#1a73e8"/>
<rect x="996.15" y="716.55" width="5.11" height="37.20" fill="#1a73e8"/>
<rect x="1002.38" y="716.55" width="5.11" height="37.20" fill="#1a73e8"/>
<rect x="1008.61" y="735.15" width="5.11" height="18.60" fill="#1a73e8"/>
<rect x="1014.84" y="735.15" width="5.11" height="18.60" fill="#1a73e8"/>
<rect x="1021.07" y="735.15" width="5.11" height="18.60" fill="#1a73e8"/>
<rect x="1027.30" y="716.55" width="5.11" height="37.20" fill="#1a73e8"/>
<rect x="1033.53" y="735.15" width="5.11" height="18.60" fill="#1a73e8"/>
<rect x="1039.76" y="735.15" width="5.11" height="18.60" fill="#1a73e8"/>
<rect x="1045.99" y="752.75" width="5.11" height="1" fill="#dadce0"/>
<rect x="1052.22" y="735.15" width="5.11" height="18.60" fill="#1a73e8"/>
<rect x="1058.45" y="735.15" width="5.11" height="18.60" fill="#1a73e8"/>
<rect x="1064.68" y="716.55" width="5.11" height="37.20" fill="#1a73e8"/>
<rect x="1070.91" y="735.15" width="5.11" height="18.60" fill="#1a73e8"/>
<rect x="1077.14" y="752.75" width="5.11" height="1" fill="#dadce0"/>
<rect x="1083.37" y="752.75" width="5.11" height="1" fill="#dadce0"/>
<rect x="1089.60" y="752.75" width="5.11" height="1" fill="#dadce0"/>
<rect x="1095.83" y="752.75" width="5.11" height="1" fill="#dadce0"/>
<rect x="1102.06" y="735.15" width="5.11" height="18.60" fill="#1a73e8"/>
<rect x="1108.29" y="735.15" width="5.11" height="18.60" fill="#1a73e8"/>
<rect x="1114.52" y="716.55" width="5.11" height="37.20" fill="#1a73e8"/>
<rect x="1120.75" y="752.75" width="5.11" height="1" fill="#dadce0"/>
<rect x="1126.98" y="752.75" width="5.11" height="1" fill="#dadce0"/>
<rect x="1133.21" y="735.15" width="5.11" height="18.60" fill="#1a73e8"/>
<rect x="1139.44" y="735.15" width="5.11" height="18.60" fill="#1a73e8"/>
<rect x="1145.67" y="752.75" width="5.11" height="1" fill="#dadce0"/>
<rect x="1356.60" y="752.75" width="3.40" height="1" fill="#dadce0"/>
<rect x="1360.75" y="752.75" width="3.40" height="1" fill="#dadce0"/>
<rect x="1364.89" y="744.55" width="3.40" height="9.20" fill="#1a73e8"/>
<rect x="1369.04" y="744.55" width="3.40" height="9.20" fill="#1a73e8"/>
<rect x="1373.19" y="735.35" width="3.40" height="18.40" fill="#1a73e8"/>
<rect x="1377.33" y="744.55" width="3.40" height="9.20" fill="#1a73e8"/>
<rect x="1381.48" y="744.55" width="3.40" height="9.20" fill="#1a73e8"/>
<rect x="1385.63" y="752.75" width="3.40" height="1" fill="#dadce0"/>
<rect x="1389.77" y="744.55" width="3.40" height="9.20" fill="#1a73e8"/>
<rect x="1393.92" y="735.35" width="3.40" height="18.40" fill="#1a73e8"/>
<rect x="1398.07" y="716.95" width="3.40" height="36.80" fill="#1a73e8"/>
<rect x="1402.21" y="744.55" width="3.40" height="9.20" fill="#1a73e8"/>
<rect x="1406.36" y="744.55" width="3.40" height="9.20" fill="#1a73e8"/>
<rect x="1410.51" y="752.75" width="3.40" height="1" fill="#dadce0"/>
<rect x="1414.65" y="744.55" width="3.40" height="9.20" fill="#1a73e8"/>
<rect x="1418.80" y="744.55" width="3.40" height="9.20" fill="#1a73e8"/>
<rect x="1422.95" y="744.55" width="3.40" height="9.20" fill="#1a73e8"/>
<rect x="1427.09" y="744.55" width="3.40" height="9.20" fill="#1a73e8"/>
<rect x="1431.24" y="752.75" width="3.40" height="1" fill="#dadce0"/>
<rect x="1435.39" y="752.75" width="3.40" height="1" fill="#dadce0"/>
<rect x="1439.53" y="744.55" width="3.40" height="9.20" fill="#1a73e8"/>
<rect x="1443.68" y="752.75" width="3.40" height="1" fill="#dadce0"/>
<rect x="1447.83" y="744.55" width="3.40" height="9.20" fill="#1a73e8"/>
<rect x="1451.97" y="744.55" width="3.40" height="9.20" fill="#1a73e8"/>
<rect x="1456.12" y="744.55" width="3.40" height="9.20" fill="#1a73e8"/>
<rect x="1460.27" y="752.75" width="3.40" height="1" fill="#dadce0"/>
<rect x="1464.41" y="752.75" width="3.40" height="1" fill="#dadce0"/>
<rect x="1468.56" y="744.55" width="3.40" height="9.20" fill="#1a73e8"/>
<rect x="1472.71" y="744.55" width="3.40" height="9.20" fill="#1a73e8"/>
<rect x="1476.85" y="752.75" width="3.40" height="1" fill="#dadce0"/>
<path d="M719.5 650.5 L729 650.5 L724.2 655 Z" fill="#5f6368"/>
<path d="M920.5 650.5 L930 650.5 L925.2 655 Z" fill="#5f6368"/>
<line x1="392" y1="661" x2="505" y2="661" stroke="#9aa0a6" stroke-width="1.2" stroke-dasharray="4 2.5"/>
<line x1="808" y1="661" x2="919" y2="661" stroke="#9aa0a6" stroke-width="1.2" stroke-dasharray="4 2.5"/>
<line x1="963" y1="661" x2="1032" y2="661" stroke="#9aa0a6" stroke-width="1.2" stroke-dasharray="4 2.5"/>
<line x1="1225" y1="660.5" x2="1267" y2="660.5" stroke="#9aa0a6" stroke-width="1.2" stroke-dasharray="4 2.5"/>
<line x1="1225" y1="680.5" x2="1436" y2="680.5" stroke="#9aa0a6" stroke-width="1.2" stroke-dasharray="4 2.5"/>
</svg>
<span class="tx" style="left:63.00px;top:22.18px;font-size:22px;font-weight:400;color:#5f6368;letter-spacing:0.328px;">Analytics</span>
<span class="tx" style="left:189.40px;top:10.50px;font-size:13px;font-weight:400;color:#5f6368;letter-spacing:-0.010px;">Todas las cuentas</span>
<span class="tx" style="left:310.50px;top:10.50px;font-size:13px;font-weight:400;color:#5f6368;letter-spacing:0.058px;">intimia.es</span>
<span class="tx" style="left:189.50px;top:29.03px;font-size:23px;font-weight:400;color:#202124;letter-spacing:0.184px;">intimia.es</span>
<span class="tx" style="left:446.70px;top:22.53px;font-size:16.5px;font-weight:400;color:#5f6368;letter-spacing:0.428px;">Pruebe a buscar "Resumen de los usuarios"</span>
<span class="tx" style="left:79.70px;top:84.88px;font-size:15.5px;font-weight:400;color:#202124;letter-spacing:0.103px;-webkit-text-stroke:0.35px currentColor;">Informe panorámico</span>
<span class="tx" style="left:79.70px;top:121.88px;font-size:15.5px;font-weight:400;color:#1967d2;letter-spacing:-0.149px;-webkit-text-stroke:0.35px currentColor;">Resumen en tiempo real</span>
<span class="tx" style="left:79.70px;top:158.88px;font-size:15.5px;font-weight:400;color:#202124;letter-spacing:-0.148px;-webkit-text-stroke:0.35px currentColor;">Páginas en tiempo real</span>
<span class="tx" style="left:79.20px;top:208.68px;font-size:15.5px;font-weight:400;color:#5f6368;letter-spacing:0.147px;">Objetivos de negocio</span>
<span class="tx" style="left:95.90px;top:245.28px;font-size:15.5px;font-weight:400;color:#202124;letter-spacing:0.035px;-webkit-text-stroke:0.35px currentColor;">Generar oportunidades de v...</span>
<span class="tx" style="left:95.90px;top:282.58px;font-size:15.5px;font-weight:400;color:#202124;letter-spacing:-0.032px;-webkit-text-stroke:0.35px currentColor;">Generar ventas</span>
<span class="tx" style="left:95.90px;top:320.08px;font-size:15.5px;font-weight:400;color:#202124;letter-spacing:0.002px;-webkit-text-stroke:0.35px currentColor;">Conocer el tráfico web o de a...</span>
<span class="tx" style="left:95.90px;top:357.78px;font-size:15.5px;font-weight:400;color:#202124;letter-spacing:-0.041px;-webkit-text-stroke:0.35px currentColor;">Ver la interacción y la retenci...</span>
<span class="tx" style="left:79.20px;top:407.38px;font-size:15.5px;font-weight:400;color:#5f6368;letter-spacing:-0.160px;">Usuario</span>
<span class="tx" style="left:95.90px;top:444.48px;font-size:15.5px;font-weight:400;color:#202124;letter-spacing:0.112px;-webkit-text-stroke:0.35px currentColor;">Atributos de usuario</span>
<span class="tx" style="left:95.90px;top:481.78px;font-size:15.5px;font-weight:400;color:#202124;letter-spacing:-0.028px;-webkit-text-stroke:0.35px currentColor;">Tecnología</span>
<span class="tx" style="left:106.70px;top:671.28px;font-size:15.5px;font-weight:400;color:#202124;letter-spacing:0.048px;-webkit-text-stroke:0.35px currentColor;">Biblioteca</span>
<span class="tx" style="left:401.25px;top:94.62px;font-size:13.8px;font-weight:400;color:#202124;letter-spacing:-0.418px;">Todos los usuarios</span>
<span class="tx" style="left:543.75px;top:94.34px;font-size:13.3px;font-weight:400;color:#202124;letter-spacing:-0.362px;-webkit-text-stroke:0.35px currentColor;">Añadir comparación</span>
<span class="tx" style="left:367.00px;top:141.53px;font-size:23px;font-weight:400;color:#202124;letter-spacing:-0.117px;">Resumen en tiempo real</span>
<span class="tx" style="left:1161.50px;top:145.30px;font-size:15px;font-weight:400;color:#3c4043;letter-spacing:0.167px;">Acceder a la vista general de usuario</span>
<span class="tx" style="left:391.40px;top:359.64px;font-size:12px;font-weight:400;color:#5f6368;letter-spacing:0.303px;-webkit-text-stroke:0.35px currentColor;">USUARIOS ACTIVOS DURANTE LOS ÚLTIMOS 30</span>
<span class="tx" style="left:391.40px;top:381.04px;font-size:12px;font-weight:400;color:#5f6368;letter-spacing:0.439px;-webkit-text-stroke:0.35px currentColor;">MINUTOS</span>
<span class="tx" style="left:391.50px;top:403.42px;font-size:34px;font-weight:400;color:#202124;letter-spacing:-1.814px;">19</span>
<span class="tx" style="left:692.00px;top:359.64px;font-size:12px;font-weight:400;color:#5f6368;letter-spacing:0.295px;-webkit-text-stroke:0.35px currentColor;">USUARIOS ACTIVOS EN LOS ÚLTIMOS 5</span>
<span class="tx" style="left:692.00px;top:381.04px;font-size:12px;font-weight:400;color:#5f6368;letter-spacing:0.454px;-webkit-text-stroke:0.35px currentColor;">MINUTOS</span>
<span class="tx" style="left:692.50px;top:403.42px;font-size:34px;font-weight:400;color:#202124;letter-spacing:0.000px;">2</span>
<span class="tx" style="left:391.40px;top:434.24px;font-size:12px;font-weight:400;color:#5f6368;letter-spacing:0.288px;-webkit-text-stroke:0.35px currentColor;">USUARIOS ACTIVOS POR MINUTO</span>
<span class="tx" style="left:983.00px;top:460.54px;font-size:12px;font-weight:400;color:#3c4043;letter-spacing:0.000px;">2</span>
<span class="tx" style="left:983.00px;top:505.84px;font-size:12px;font-weight:400;color:#3c4043;letter-spacing:0.000px;">1</span>
<span class="tx" style="left:392.00px;top:643.30px;font-size:15px;font-weight:400;color:#202124;letter-spacing:0.234px;">Usuarios activos por Primera fuente del usuario</span>
<span class="tx" style="left:808.00px;top:643.30px;font-size:15px;font-weight:400;color:#202124;letter-spacing:0.122px;">Usuarios activos</span>
<span class="tx" style="left:935.00px;top:643.30px;font-size:15px;font-weight:400;color:#202124;letter-spacing:0.461px;">por Audiencia</span>
<span class="tx" style="left:392.30px;top:685.46px;font-size:16px;font-weight:400;color:#202124;letter-spacing:-0.037px;">N.º 1</span>
<span class="tx" style="left:436.40px;top:685.46px;font-size:16px;font-weight:400;color:#202124;letter-spacing:0.790px;">(direct)</span>
<span class="tx" style="left:436.00px;top:712.22px;font-size:21px;font-weight:400;color:#202124;letter-spacing:0.000px;">1</span>
<span class="tx" style="left:436.00px;top:738.64px;font-size:12px;font-weight:400;color:#5f6368;letter-spacing:-0.246px;">100 %</span>
<span class="tx" style="left:808.30px;top:685.46px;font-size:16px;font-weight:400;color:#202124;letter-spacing:-0.037px;">N.º 1</span>
<span class="tx" style="left:852.80px;top:685.46px;font-size:16px;font-weight:400;color:#202124;letter-spacing:0.176px;">All Users</span>
<span class="tx" style="left:852.80px;top:712.22px;font-size:21px;font-weight:400;color:#202124;letter-spacing:0.000px;">19</span>
<span class="tx" style="left:852.80px;top:738.64px;font-size:12px;font-weight:400;color:#5f6368;letter-spacing:-0.266px;">100 %</span>
<span class="tx" style="left:1225.00px;top:643.50px;font-size:15px;font-weight:400;color:#202124;letter-spacing:0.286px;">Vistas por</span>
<span class="tx" style="left:1225.00px;top:664.20px;font-size:15px;font-weight:400;color:#202124;letter-spacing:0.153px;">Título de página y nombre de ...</span>
<span class="tx" style="left:1225.30px;top:685.46px;font-size:16px;font-weight:400;color:#202124;letter-spacing:-0.037px;">N.º 1</span>
<span class="tx" style="left:1269.20px;top:685.46px;font-size:16px;font-weight:400;color:#202124;letter-spacing:0.314px;">Sex Shop Online Discreto e...</span>
<span class="tx" style="left:1269.20px;top:712.22px;font-size:21px;font-weight:400;color:#202124;letter-spacing:0.000px;">25</span>
<span class="tx" style="left:1269.20px;top:738.74px;font-size:12px;font-weight:400;color:#5f6368;letter-spacing:-0.178px;">42,37 %</span>
<span class="tx" style="left:392.80px;top:556.34px;font-size:12px;font-weight:400;color:#5f6368;letter-spacing:0.000px;">-30 min</span>
<span class="tx" style="left:481.50px;top:556.34px;font-size:12px;font-weight:400;color:#5f6368;letter-spacing:0.000px;">-25 min</span>
<span class="tx" style="left:570.20px;top:556.34px;font-size:12px;font-weight:400;color:#5f6368;letter-spacing:0.000px;">-20 min</span>
<span class="tx" style="left:658.90px;top:556.34px;font-size:12px;font-weight:400;color:#5f6368;letter-spacing:0.000px;">-15 min</span>
<span class="tx" style="left:747.60px;top:556.34px;font-size:12px;font-weight:400;color:#5f6368;letter-spacing:0.000px;">-10 min</span>
<span class="tx" style="left:839.64px;top:556.34px;font-size:12px;font-weight:400;color:#5f6368;letter-spacing:0.000px;">-5 min</span>
<span class="tx" style="left:910.60px;top:556.34px;font-size:12px;font-weight:400;color:#5f6368;letter-spacing:0.000px;">-1 min</span>
<div class="abs" style="left:1594px;top:66px;width:6px;height:331px;background:#d5d6da;border-radius:3px"></div>
<div class="abs" style="left:0px;top:772px;width:1600px;height:1px;background:#202124"></div>
</body></html>
